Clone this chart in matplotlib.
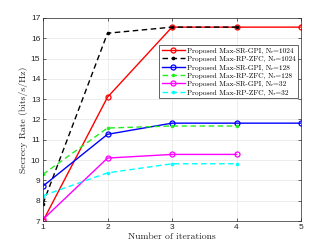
import matplotlib
matplotlib.use("Agg")
import matplotlib.pyplot as plt

plt.rcParams["mathtext.fontset"] = "cm"
plt.rcParams["font.family"] = ["Liberation Sans", "DejaVu Sans"]

iters_full = [1, 2, 3, 4, 5]
iters_short = [1, 2, 3, 4]

sr_gpi_1024 = [7.0, 13.1, 16.55, 16.55, 16.55]
rp_zfc_1024 = [7.85, 16.25, 16.55, 16.55]
sr_gpi_128 = [8.72, 11.27, 11.82, 11.82, 11.82]
rp_zfc_128 = [9.3, 11.58, 11.68, 11.68]
sr_gpi_32 = [7.08, 10.1, 10.28, 10.28]
rp_zfc_32 = [8.25, 9.37, 9.82, 9.82]

series = [
    (iters_full, sr_gpi_1024, "red", "-", "o", "Proposed Max-SR-GPI, N\u1d63=1024"),
    (iters_short, rp_zfc_1024, "black", "--", ".", "Proposed Max-RP-ZFC, N\u1d63=1024"),
    (iters_full, sr_gpi_128, "blue", "-", "o", "Proposed Max-SR-GPI, N\u1d63=128"),
    (iters_short, rp_zfc_128, "#22ee22", "--", ".", "Proposed Max-RP-ZFC, N\u1d63=128"),
    (iters_short, sr_gpi_32, "magenta", "-", "o", "Proposed Max-SR-GPI, N\u1d63=32"),
    (iters_short, rp_zfc_32, "cyan", "--", ".", "Proposed Max-RP-ZFC, N\u1d63=32"),
]

fig = plt.figure(figsize=(3.32, 2.49), dpi=100)
ax = fig.add_axes([43 / 332, 1 - 221 / 249, 258 / 332, 203 / 249])

for x, y, color, ls, marker, lab in series:
    if marker == "o":
        ax.plot(x, y, color=color, linestyle=ls, linewidth=1.0, marker="o",
                markersize=3.6, markerfacecolor="none", markeredgewidth=0.9, label=lab)
    else:
        ax.plot(x, y, color=color, linestyle=ls, linewidth=1.0, marker="o",
                markersize=2.6, markerfacecolor=color, markeredgewidth=0, label=lab,
                dashes=(4, 2.5))

ax.set_xlim(1, 5)
ax.set_ylim(7, 17)
ax.set_xticks([1, 2, 3, 4, 5])
ax.set_yticks(range(7, 18))
ax.grid(True, color="#e6e6e6", linewidth=0.5)
ax.set_axisbelow(True)
ax.tick_params(direction="in", length=2.5, width=0.5, labelsize=6, pad=2,
               top=True, right=True, colors="#262626")
for spine in ax.spines.values():
    spine.set_linewidth(0.5)
    spine.set_color("#262626")

ax.set_xlabel("Number of iterations", family=["cmr10", "DejaVu Serif"], fontsize=7,
              labelpad=1, color="#262626")
ax.set_ylabel("Secrecy Rate (bits/s/Hz)", family=["cmr10", "DejaVu Serif"], fontsize=7,
              labelpad=2, color="#262626")

leg = ax.legend(loc="upper right", bbox_to_anchor=(0.99, 0.865),
                prop={"family": ["cmr10", "DejaVu Sans"], "size": 5.3},
                frameon=True, fancybox=False, edgecolor="#262626", framealpha=1,
                borderpad=0.3, labelspacing=0.25, handlelength=3.1, handletextpad=0.4,
                borderaxespad=0)
leg.get_frame().set_linewidth(0.5)

fig.savefig("out.png", dpi=100)
